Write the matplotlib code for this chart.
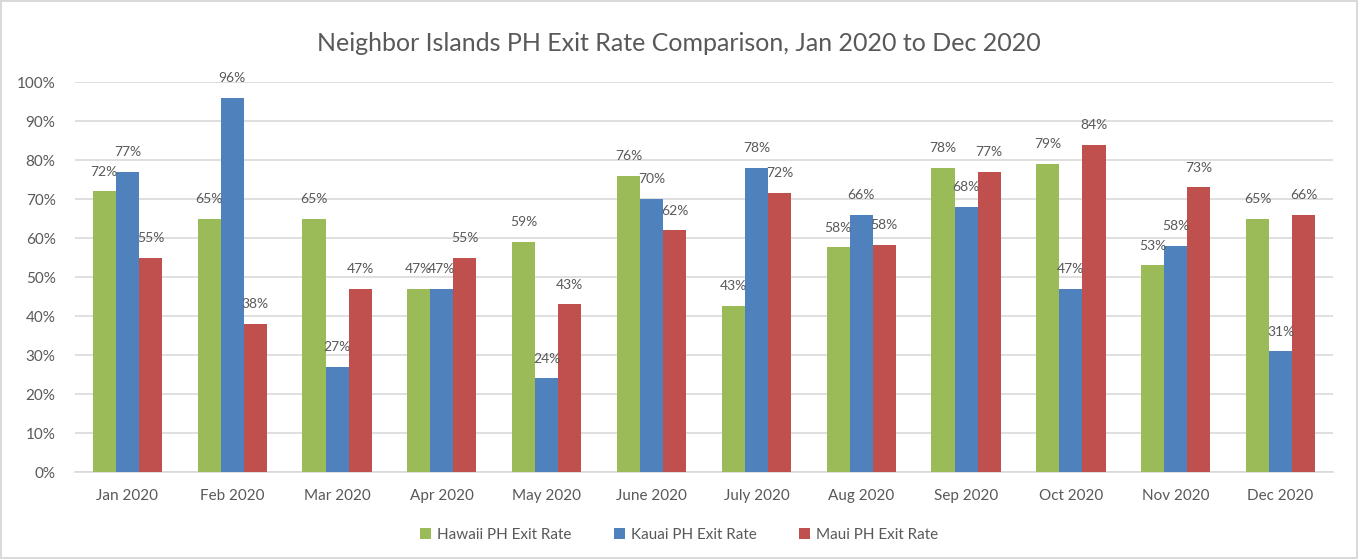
import matplotlib
matplotlib.use("Agg")
import matplotlib.pyplot as plt
import numpy as np
from matplotlib.ticker import PercentFormatter

months = ['Jan 2020', 'Feb 2020', 'Mar 2020', 'Apr 2020', 'May 2020', 'June 2020',
          'July 2020', 'Aug 2020', 'Sep 2020', 'Oct 2020', 'Nov 2020', 'Dec 2020']
hawaii = [0.72, 0.65, 0.65, 0.47, 0.59, 0.76, 0.426, 0.576, 0.78, 0.79, 0.53, 0.65]
kauai = [0.77, 0.96, 0.27, 0.47, 0.24, 0.70, 0.78, 0.66, 0.68, 0.47, 0.58, 0.31]
maui = [0.55, 0.38, 0.47, 0.55, 0.43, 0.62, 0.716, 0.582, 0.77, 0.84, 0.73, 0.66]

series = [('Hawaii PH Exit Rate', hawaii, '#9BBB59'),
          ('Kauai PH Exit Rate', kauai, '#4F81BD'),
          ('Maui PH Exit Rate', maui, '#C0504D')]

plt.rcParams['font.family'] = ['Lato', 'DejaVu Sans']
txt = '#595959'

fig = plt.figure(figsize=(13.58, 5.59), dpi=100)
fig.patch.set_edgecolor('#D9D9D9')
fig.patch.set_linewidth(1.5)
ax = fig.add_axes([0.0552, 0.1556, 0.9264, 0.6974])

x = np.arange(len(months))
w = 0.22
for i, (name, vals, col) in enumerate(series):
    pos = x + (i - 1) * w
    ax.bar(pos, vals, w, color=col, label=name, zorder=3)
    for p, v in zip(pos, vals):
        ax.text(p, v + 0.035, f'{v:.0%}', ha='center', va='bottom',
                fontsize=10, color=txt, zorder=4)

ax.set_ylim(0, 1.0)
ax.set_xlim(-0.5, len(months) - 0.5)
ax.set_yticks(np.arange(0, 1.01, 0.1))
ax.yaxis.set_major_formatter(PercentFormatter(1.0, decimals=0))
ax.set_xticks(x)
ax.set_xticklabels(months)
ax.tick_params(axis='both', length=0, labelsize=11, colors=txt)
ax.tick_params(axis='x', pad=12)
ax.tick_params(axis='y', pad=14)
ax.grid(axis='y', color='#D9D9D9', linewidth=1.2, zorder=0)
for s in ['top', 'right', 'left']:
    ax.spines[s].set_visible(False)
ax.spines['bottom'].set_color('#D9D9D9')
ax.spines['bottom'].set_linewidth(1.2)

fig.text(0.5, 0.922, 'Neighbor Islands PH Exit Rate Comparison, Jan 2020 to Dec 2020',
         ha='center', va='center', fontsize=18, color=txt)

leg = fig.legend(loc='center', bbox_to_anchor=(0.5, 0.043), ncol=3, frameon=False,
                 fontsize=11, handlelength=0.7, handleheight=0.7, columnspacing=2.8,
                 handletextpad=0.4)
for t in leg.get_texts():
    t.set_color(txt)

fig.savefig('out.png', dpi=100)
